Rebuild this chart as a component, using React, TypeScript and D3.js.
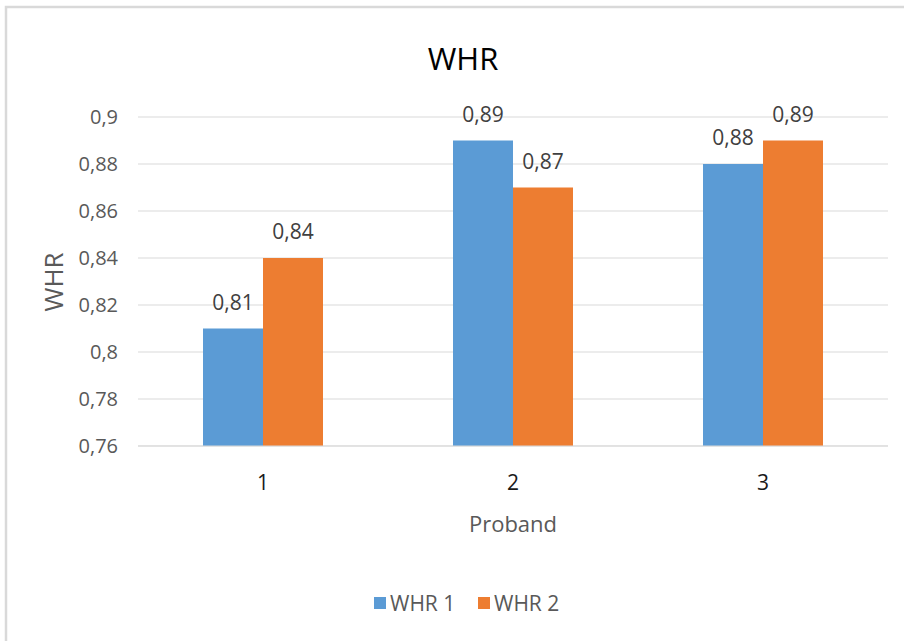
import React from "react";
import * as d3 from "d3";

const categories = ["1", "2", "3"];
const seriesNames = ["WHR 1", "WHR 2"];
const whr1 = [0.81, 0.89, 0.88];
const whr2 = [0.84, 0.87, 0.89];
const yTicks = [0.76, 0.78, 0.8, 0.82, 0.84, 0.86, 0.88, 0.9];
const colors = ["#5B9BD5", "#ED7D31"];

const W = 904;
const H = 641;
const FONT = "'Open Sans', 'Noto Sans', sans-serif";
const fmt = (v: number) => String(+v.toFixed(2)).replace(".", ",");

export default function App() {
  const left = 138, right = 888, top = 117, bottom = 446;
  const x = d3.scaleBand<string>().domain(categories).range([left, right]).paddingInner(0.52).paddingOuter(0.26);
  const x1 = d3.scaleBand<string>().domain(seriesNames).range([0, x.bandwidth()]);
  const y = d3.scaleLinear().domain([0.76, 0.9]).range([bottom, top]);
  const series = [whr1, whr2];
  const legendX = [374, 478];

  return (
    <svg width={W} height={H} style={{ position: "absolute", left: 0, top: 0, background: "#fff" }} fontFamily={FONT}>
      <rect x={6} y={7} width={W + 10} height={H + 10} fill="#fff" stroke="#d9d9d9" strokeWidth={2.5} />
      <text x={463} y={70} textAnchor="middle" fontSize={31} fill="#000">WHR</text>
      {yTicks.map((t) => (
        <g key={t}>
          <line x1={left} x2={right} y1={y(t)} y2={y(t)} stroke="#d9d9d9" strokeWidth={1} />
          <text x={118} y={y(t)} dy="0.36em" textAnchor="end" fontSize={20} fill="#595959">{fmt(t)}</text>
        </g>
      ))}
      {categories.map((c, i) => (
        <g key={c}>
          {series.map((s, j) => {
            const bx = (x(c) as number) + (x1(seriesNames[j]) as number);
            return (
              <g key={j}>
                <rect x={bx} y={y(s[i])} width={x1.bandwidth()} height={bottom - y(s[i])} fill={colors[j]} />
                <text x={bx + x1.bandwidth() / 2} y={y(s[i]) - 19} textAnchor="middle" fontSize={21} fill="#404040">{fmt(s[i])}</text>
              </g>
            );
          })}
          <text x={(x(c) as number) + x.bandwidth() / 2} y={490} textAnchor="middle" fontSize={21} fill="#1a1a1a">{c}</text>
        </g>
      ))}
      <line x1={left} x2={right} y1={bottom} y2={bottom} stroke="#d9d9d9" strokeWidth={1} />
      <text x={513} y={532} textAnchor="middle" fontSize={22} fill="#595959">Proband</text>
      <text transform={`translate(63,282) rotate(-90)`} textAnchor="middle" fontSize={26} fill="#595959">WHR</text>
      {seriesNames.map((n, j) => (
        <g key={n} transform={`translate(${legendX[j]},0)`}>
          <rect x={0} y={597} width={12} height={12} fill={colors[j]} />
          <text x={16} y={611} fontSize={21} fill="#595959">{n}</text>
        </g>
      ))}
    </svg>
  );
}
